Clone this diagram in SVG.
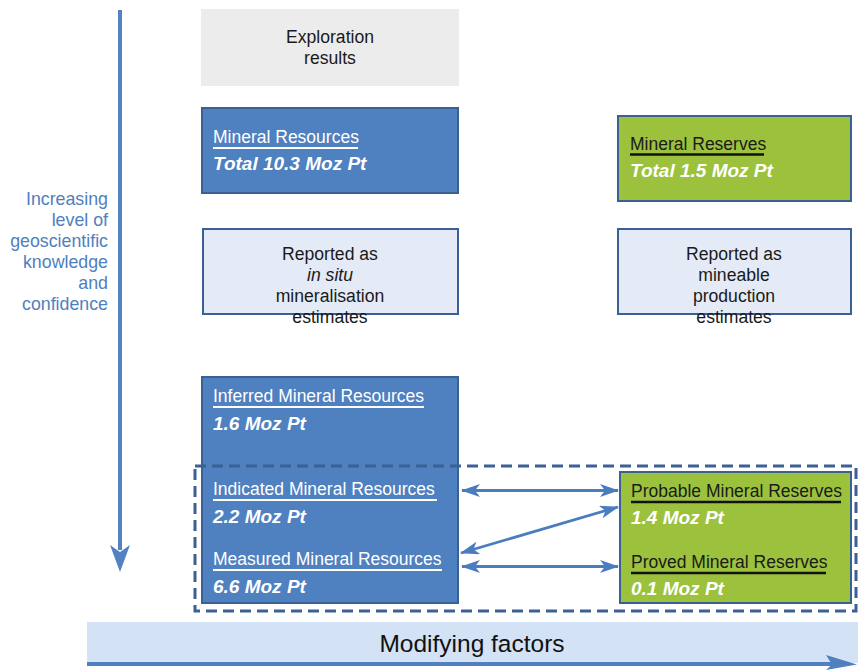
<svg xmlns="http://www.w3.org/2000/svg" width="858" height="670" viewBox="0 0 858 670">
<style>
  text { font-family: "Liberation Sans", Arial, sans-serif; }
  .blue { fill: #4f80bf; stroke: #3b6096; stroke-width: 2; }
  .green { fill: #9cc23d; stroke: #3b6096; stroke-width: 2; }
  .pale { fill: #e4eaf6; stroke: #3b6096; stroke-width: 2; }
  .head { font-size: 17.5px; }
  .val { font-size: 19px; font-weight: bold; font-style: italic; fill: #fff; }
  .wt { fill: #fff; }
  .bk { fill: #1a1a1a; }
  .ctr { font-size: 17.6px; fill: #1a1a1a; text-anchor: middle; }
  .side { font-size: 17.8px; fill: #4f80bf; text-anchor: end; }
  .ulw { stroke: #fff; stroke-width: 2; }
  .ulb { stroke: #111; stroke-width: 2.5; }
  .conn { stroke: #4a7cc0; stroke-width: 2.8; fill: none; }
</style>
<defs>
  <marker id="ah" viewBox="0 0 19 13" refX="18" refY="6.5" markerWidth="19" markerHeight="13" markerUnits="userSpaceOnUse" orient="auto-start-reverse">
    <path d="M0,0 L19,6.5 L0,13 L5,6.5 Z" fill="#4a7cc0"/>
  </marker>
</defs>

<g id="side-axis">
  <line x1="120" y1="10" x2="120" y2="550" stroke="#5282c2" stroke-width="4"/>
  <path d="M110,545 L120,572 L130,545 L120,552 Z" fill="#5282c2"/>
  <text class="side" x="108" y="204.5">Increasing</text>
  <text class="side" x="108" y="225.5">level of</text>
  <text class="side" x="108" y="246.5">geoscientific</text>
  <text class="side" x="108" y="267.5">knowledge</text>
  <text class="side" x="108" y="288.5">and</text>
  <text class="side" x="108" y="309.5">confidence</text>
</g>

<g id="exploration">
  <rect x="201" y="9" width="258" height="77" fill="#ececec"/>
  <text class="ctr" x="330" y="43">Exploration</text>
  <text class="ctr" x="330" y="64">results</text>
</g>

<g id="mineral-resources">
  <rect class="blue" x="202" y="108" width="256" height="85"/>
  <text class="head wt" x="213" y="143">Mineral Resources</text>
  <line class="ulw" x1="213" y1="148" x2="358" y2="148"/>
  <text class="val" x="213" y="170">Total 10.3 Moz Pt</text>
</g>

<g id="mineral-reserves">
  <rect class="green" x="618" y="116" width="233" height="85"/>
  <text class="head bk" x="630" y="150">Mineral Reserves</text>
  <line class="ulb" x1="630" y1="154.5" x2="764" y2="154.5"/>
  <text class="val" x="630" y="177">Total 1.5 Moz Pt</text>
</g>

<g id="in-situ">
  <rect class="pale" x="203" y="229" width="255" height="85"/>
  <text class="ctr" x="330" y="260">Reported as</text>
  <text class="ctr" x="330" y="281" font-style="italic">in situ</text>
  <text class="ctr" x="330" y="302">mineralisation</text>
  <text class="ctr" x="330" y="323">estimates</text>
</g>

<g id="mineable">
  <rect class="pale" x="618" y="229" width="233" height="85"/>
  <text class="ctr" x="734" y="260">Reported as</text>
  <text class="ctr" x="734" y="281">mineable</text>
  <text class="ctr" x="734" y="302">production</text>
  <text class="ctr" x="734" y="323">estimates</text>
</g>

<g id="resource-categories">
  <rect class="blue" x="202" y="377" width="256" height="226"/>
  <text class="head wt" x="213" y="402">Inferred Mineral Resources</text>
  <line class="ulw" x1="213" y1="407" x2="424" y2="407"/>
  <text class="val" x="213" y="430">1.6 Moz Pt</text>
  <text class="head wt" x="213" y="495">Indicated Mineral Resources</text>
  <line class="ulw" x1="213" y1="500" x2="437" y2="500"/>
  <text class="val" x="213" y="523">2.2 Moz Pt</text>
  <text class="head wt" x="213" y="565">Measured Mineral Resources</text>
  <line class="ulw" x1="213" y1="570" x2="442" y2="570"/>
  <text class="val" x="213" y="593">6.6 Moz Pt</text>
</g>

<g id="reserve-categories">
  <rect class="green" x="620" y="472" width="231" height="131"/>
  <text class="head bk" x="631" y="497">Probable Mineral Reserves</text>
  <line class="ulb" x1="631" y1="502" x2="841" y2="502"/>
  <text class="val" x="631" y="524">1.4 Moz Pt</text>
  <text class="head bk" x="631" y="568">Proved Mineral Reserves</text>
  <line class="ulb" x1="631" y1="573" x2="826" y2="573"/>
  <text class="val" x="631" y="595">0.1 Moz Pt</text>
</g>

<g id="dashed-frame">
  <rect x="195" y="466" width="661" height="145" fill="none" stroke="#3b6096" stroke-width="3" stroke-dasharray="11,6"/>
</g>

<g id="connectors">
  <line class="conn" x1="462" y1="490.5" x2="618" y2="490.5" marker-start="url(#ah)" marker-end="url(#ah)"/>
  <line class="conn" x1="461" y1="553" x2="618" y2="507" marker-start="url(#ah)" marker-end="url(#ah)"/>
  <line class="conn" x1="462" y1="566.5" x2="618" y2="566.5" marker-start="url(#ah)" marker-end="url(#ah)"/>
</g>

<g id="modifying-factors">
  <rect x="87" y="622" width="771" height="41" fill="#d3e2f4"/>
  <line x1="87" y1="664" x2="838" y2="664" stroke="#4f80bf" stroke-width="4"/>
  <path d="M826,655 L857,664.5 L826,670 L832,664.5 Z" fill="#4f80bf"/>
  <text x="472" y="652" font-size="24.5" fill="#111" text-anchor="middle">Modifying factors</text>
</g>
</svg>
